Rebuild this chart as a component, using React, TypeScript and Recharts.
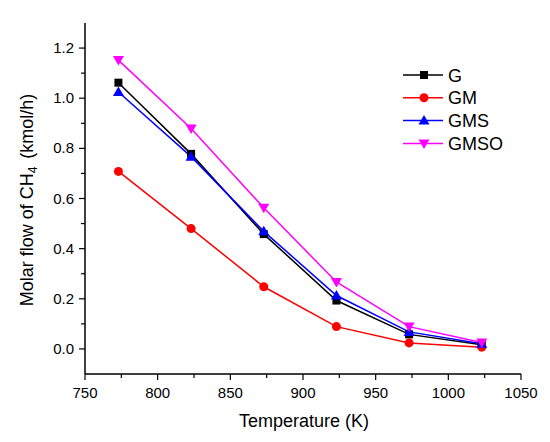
import React from 'react';
import { LineChart, Line, XAxis, YAxis } from 'recharts';

// reactor temperature (K) and CH4 molar flow (kmol/h) per case
const temperatures = [773, 823, 873, 923, 973, 1023];
const seriesG = [1.062, 0.778, 0.458, 0.193, 0.058, 0.017];
const seriesGM = [0.708, 0.48, 0.248, 0.089, 0.024, 0.007];
const seriesGMS = [1.025, 0.767, 0.469, 0.213, 0.068, 0.021];
const seriesGMSO = [1.152, 0.879, 0.563, 0.267, 0.089, 0.026];

const xTicks = [750, 775, 800, 825, 850, 875, 900, 925, 950, 975, 1000, 1025, 1050];
const yTicks = [0, 0.1, 0.2, 0.3, 0.4, 0.5, 0.6, 0.7, 0.8, 0.9, 1.0, 1.1, 1.2];

const FONT = "'Liberation Sans', Arial, sans-serif";
const axisLine = { stroke: '#000', strokeWidth: 1.5 };

type Kind = 'square' | 'circle' | 'up' | 'down';

const series: { key: string; name: string; color: string; kind: Kind }[] = [
  { key: 'G', name: 'G', color: '#000000', kind: 'square' },
  { key: 'GM', name: 'GM', color: '#ff0000', kind: 'circle' },
  { key: 'GMS', name: 'GMS', color: '#0000ff', kind: 'up' },
  { key: 'GMSO', name: 'GMSO', color: '#ff00ff', kind: 'down' },
];

const data = temperatures.map((t, i) => ({
  t,
  G: seriesG[i],
  GM: seriesGM[i],
  GMS: seriesGMS[i],
  GMSO: seriesGMSO[i],
}));

const marker = (kind: Kind, color: string, cx: number, cy: number) => {
  switch (kind) {
    case 'square':
      return <rect x={cx - 4} y={cy - 4} width={8} height={8} fill={color} />;
    case 'circle':
      return <circle cx={cx} cy={cy} r={4.5} fill={color} />;
    case 'up':
      return <polygon points={`${cx},${cy - 5.5} ${cx + 5.5},${cy + 4} ${cx - 5.5},${cy + 4}`} fill={color} />;
    default:
      return <polygon points={`${cx},${cy + 5.5} ${cx + 5.5},${cy - 4} ${cx - 5.5},${cy - 4}`} fill={color} />;
  }
};

const BottomTick = (props: any) => {
  const { x, y, payload } = props;
  const major = payload.value % 50 === 0;
  return (
    <g>
      <line x1={x} y1={y} x2={x} y2={y + (major ? 6 : 4)} stroke="#000" strokeWidth={1.2} />
      {major && (
        <text x={x} y={y + 24} textAnchor="middle" fontSize={15} fontFamily={FONT} fill="#000">
          {payload.value}
        </text>
      )}
    </g>
  );
};

const LeftTick = (props: any) => {
  const { x, y, payload } = props;
  const major = Math.round(payload.value * 10) % 2 === 0;
  return (
    <g>
      <line x1={x} y1={y} x2={x - (major ? 6 : 4)} y2={y} stroke="#000" strokeWidth={1.2} />
      {major && (
        <text x={x - 11} y={y + 5} textAnchor="end" fontSize={15} fontFamily={FONT} fill="#000">
          {payload.value.toFixed(1)}
        </text>
      )}
    </g>
  );
};

const TopTick = (props: any) => (
  <line x1={props.x} y1={props.y} x2={props.x} y2={props.y + 5} stroke="#000" strokeWidth={1.2} />
);

const RightTick = (props: any) => (
  <line x1={props.x} y1={props.y} x2={props.x - 5} y2={props.y} stroke="#000" strokeWidth={1.2} />
);

const Legend = () => (
  <svg width={130} height={95} style={{ position: 'absolute', left: 400, top: 62 }}>
    {series.map((s, i) => {
      const cy = 13 + i * 22.8;
      return (
        <g key={s.key}>
          <line x1={3} y1={cy} x2={43} y2={cy} stroke={s.color} strokeWidth={1.5} />
          {marker(s.kind, s.color, 24, cy)}
          <text x={48} y={cy + 6.5} fontSize={18} fontFamily={FONT} fill="#000">
            {s.name}
          </text>
        </g>
      );
    })}
  </svg>
);

export default function App() {
  return (
    <div style={{ position: 'absolute', left: 0, top: 0, width: 550, height: 442, background: '#fff' }}>
      <LineChart width={550} height={442} data={data} margin={{ top: 23, right: 29, bottom: 0, left: 0 }}>
        <XAxis
          xAxisId="bottom"
          dataKey="t"
          type="number"
          domain={[750, 1050]}
          ticks={xTicks}
          interval={0}
          height={68}
          tickLine={false}
          tickSize={0}
          tickMargin={0}
          axisLine={axisLine}
          tick={(p: any) => <BottomTick {...p} />}
          label={{
            content: () => (
              <text x={304} y={427} textAnchor="middle" fontSize={18} fontFamily={FONT} fill="#000">
                Temperature (K)
              </text>
            ),
          }}
        />
        <XAxis
          xAxisId="top"
          orientation="top"
          dataKey="t"
          type="number"
          domain={[750, 1050]}
          ticks={xTicks}
          interval={0}
          height={0}
          tickLine={false}
          tickSize={0}
          tickMargin={0}
          axisLine={axisLine}
          tick={(p: any) => <TopTick {...p} />}
        />
        <YAxis
          yAxisId="left"
          type="number"
          domain={[-0.1, 1.3]}
          ticks={yTicks}
          interval={0}
          width={85}
          tickLine={false}
          tickSize={0}
          tickMargin={0}
          axisLine={axisLine}
          tick={(p: any) => <LeftTick {...p} />}
          label={{
            content: () => (
              <text
                x={33}
                y={200}
                textAnchor="middle"
                transform="rotate(-90 33 200)"
                fontSize={18}
                fontFamily={FONT}
                fill="#000"
              >
                Molar flow of CH
                <tspan fontSize={12} dy={4}>4</tspan>
                <tspan dy={-4} dx={8}>(kmol/h)</tspan>
              </text>
            ),
          }}
        />
        <YAxis
          yAxisId="right"
          orientation="right"
          type="number"
          domain={[-0.1, 1.3]}
          ticks={yTicks}
          interval={0}
          width={0}
          tickLine={false}
          tickSize={0}
          tickMargin={0}
          axisLine={axisLine}
          tick={(p: any) => <RightTick {...p} />}
        />
        {series.map((s) => (
          <Line
            key={s.key}
            xAxisId="bottom"
            yAxisId="left"
            dataKey={s.key}
            stroke={s.color}
            strokeWidth={1.5}
            isAnimationActive={false}
            dot={(p: any) => <g key={`${s.key}-${p.index}`}>{marker(s.kind, s.color, p.cx, p.cy)}</g>}
            activeDot={false}
          />
        ))}
      </LineChart>
      <Legend />
    </div>
  );
}
